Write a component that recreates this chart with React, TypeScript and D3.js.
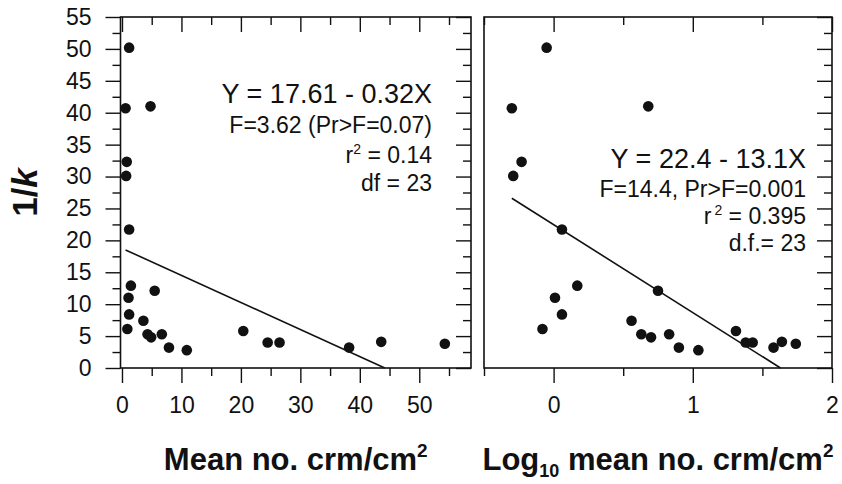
import React, { useRef, useEffect } from 'react';
import * as d3 from 'd3';

// 1/k for each site (same points in both panels)
const invK = [50.2, 40.7, 41.0, 32.3, 30.1, 21.7, 12.9, 11.0, 12.1, 8.4, 6.1, 7.4, 5.3, 4.8, 5.3, 3.2, 2.8, 5.8, 4.0, 4.0, 3.2, 4.1, 3.8];
// mean no. crm/cm2 (left panel)
const meanCrm = [1.2, 0.6, 4.8, 0.8, 0.7, 1.2, 1.5, 1.1, 5.5, 1.2, 0.9, 3.6, 4.3, 4.9, 6.7, 7.9, 10.9, 20.4, 24.5, 26.5, 38.2, 43.6, 54.3];
// log10 mean no. crm/cm2 (right panel)
const logMeanCrm = [-0.05, -0.3, 0.68, -0.23, -0.29, 0.06, 0.17, 0.01, 0.75, 0.06, -0.08, 0.56, 0.63, 0.7, 0.83, 0.9, 1.04, 1.31, 1.38, 1.43, 1.58, 1.64, 1.74];

// fitted lines as drawn (start / end)
const leftFit: [number, number][] = [[0.6, 18.5], [44.2, 0]];
const rightFit: [number, number][] = [[-0.3, 26.6], [1.63, 0]];

const yTicks = d3.range(0, 56, 5);
const yMinor = d3.range(2.5, 55, 5);
const leftXTicks = [0, 10, 20, 30, 40, 50];
const leftXMinor = [5, 15, 25, 35, 45, 55];
const rightXTicks = [0, 1, 2];
const rightXMinor = [-0.5, 0.5, 1.5];

const leftStats = { eq: 'Y = 17.61 - 0.32X', f: 'F=3.62 (Pr>F=0.07)', r2: ' = 0.14', df: 'df = 23' };
const rightStats = { eq: 'Y = 22.4 - 13.1X', f: 'F=14.4, Pr>F=0.001', r2: ' = 0.395', df: 'd.f.= 23' };

const FONT = "'Liberation Sans', Arial, Helvetica, sans-serif";
const INK = '#111';

const App = () => {
  const svgRef = useRef<SVGSVGElement>(null);

  useEffect(() => {
    const width = 842;
    const height = 484;
    const top = 17;
    const bottom = 368;

    const svg = d3.select(svgRef.current);
    svg.selectAll('*').remove();
    svg.attr('width', width).attr('height', height);

    const y = d3.scaleLinear().domain([0, 55]).range([bottom, top]);
    const xL = d3.scaleLinear().domain([-0.25, 58.7]).range([120.5, 471]);
    const xR = d3.scaleLinear().domain([-0.5, 2]).range([484, 832]);

    // helper for tick-only axes
    const ticks = (axis: any, tx: number, ty: number) => {
      const g = svg.append('g').attr('transform', `translate(${tx},${ty})`).call(axis);
      g.select('.domain').remove();
      g.selectAll('line').attr('stroke', INK).attr('stroke-width', 1.4);
      g.selectAll('text').attr('font-family', FONT).attr('font-size', 23).attr('fill', INK);
      return g;
    };

    const panel = (x: any, xs: number[], xMajor: number[], xMinor: number[], fit: [number, number][], leftLabels: boolean) => {
      const [x0, x1] = x.range();

      // left side
      if (leftLabels) {
        ticks(d3.axisLeft(y).tickValues(yTicks).tickSize(15).tickPadding(14), x0, 0);
        ticks(d3.axisLeft(y).tickValues(yMinor).tickSize(8).tickFormat(() => ''), x0, 0);
      }
      // right side, inward
      ticks(d3.axisRight(y).tickValues(yTicks).tickSize(-15).tickFormat(() => ''), x1, 0);
      ticks(d3.axisRight(y).tickValues(yMinor).tickSize(-8).tickFormat(() => ''), x1, 0);
      // top, inward
      ticks(d3.axisTop(x).tickValues(xMajor).tickSize(-15).tickFormat(() => ''), 0, top);
      ticks(d3.axisTop(x).tickValues(xMinor).tickSize(-8).tickFormat(() => ''), 0, top);
      // bottom, outward
      ticks(d3.axisBottom(x).tickValues(xMajor).tickSize(15).tickPadding(14).tickFormat(d3.format('d')), 0, bottom);
      ticks(d3.axisBottom(x).tickValues(xMinor).tickSize(8).tickFormat(() => ''), 0, bottom);

      // frame
      svg.append('rect')
        .attr('x', x0).attr('y', top)
        .attr('width', x1 - x0).attr('height', bottom - top)
        .attr('fill', 'none').attr('stroke', INK).attr('stroke-width', 1.6);

      // regression line
      svg.append('path')
        .datum(fit)
        .attr('d', d3.line<[number, number]>().x(d => x(d[0])).y(d => y(d[1])))
        .attr('fill', 'none').attr('stroke', INK).attr('stroke-width', 1.6);

      // points
      svg.append('g').selectAll('circle')
        .data(xs.map((v, i) => [v, invK[i]]))
        .join('circle')
        .attr('cx', d => x(d[0]))
        .attr('cy', d => y(d[1]))
        .attr('r', 5.3)
        .attr('fill', INK);
    };

    panel(xL, meanCrm, leftXTicks, leftXMinor, leftFit, true);
    panel(xR, logMeanCrm, rightXTicks, rightXMinor, rightFit, false);

    // stats text blocks
    const stats = (s: any, xEnd: number, baselines: number[], supGap: number) => {
      const g = svg.append('g')
        .attr('font-family', FONT).attr('fill', INK).attr('text-anchor', 'end');
      g.append('text').attr('x', xEnd).attr('y', baselines[0]).attr('font-size', 27).text(s.eq);
      g.append('text').attr('x', xEnd).attr('y', baselines[1]).attr('font-size', 23).text(s.f);
      const r = g.append('text').attr('x', xEnd).attr('y', baselines[2]).attr('font-size', 23);
      r.append('tspan').text('r');
      r.append('tspan').attr('font-size', 14).attr('dx', supGap).attr('dy', -9).text('2');
      r.append('tspan').attr('dy', 9).text(s.r2);
      g.append('text').attr('x', xEnd).attr('y', baselines[3]).attr('font-size', 23).text(s.df);
    };
    stats(leftStats, 432, [103, 133, 163, 191], 0);
    stats(rightStats, 806, [168, 197, 224, 251], 3);

    // y title
    const yt = svg.append('text')
      .attr('transform', `translate(37,${(top + bottom) / 2}) rotate(-90)`)
      .attr('text-anchor', 'middle')
      .attr('font-family', FONT).attr('font-weight', 'bold').attr('font-size', 35).attr('fill', INK);
    yt.append('tspan').text('1/');
    yt.append('tspan').attr('font-style', 'italic').text('k');

    // x titles
    const lt = svg.append('text')
      .attr('x', (xL.range()[0] + xL.range()[1]) / 2).attr('y', 470)
      .attr('text-anchor', 'middle')
      .attr('font-family', FONT).attr('font-weight', 'bold').attr('font-size', 31).attr('fill', INK);
    lt.append('tspan').text('Mean no. crm/cm');
    lt.append('tspan').attr('font-size', 19).attr('dy', -13).text('2');

    const rt = svg.append('text')
      .attr('x', (xR.range()[0] + xR.range()[1]) / 2).attr('y', 470)
      .attr('text-anchor', 'middle')
      .attr('font-family', FONT).attr('font-weight', 'bold').attr('font-size', 31).attr('fill', INK);
    rt.append('tspan').text('Log');
    rt.append('tspan').attr('font-size', 18).attr('dy', 7).text('10');
    rt.append('tspan').attr('dy', -7).text(' mean no. crm/cm');
    rt.append('tspan').attr('font-size', 19).attr('dy', -13).text('2');
  }, []);

  return (
    <svg
      ref={svgRef}
      style={{ position: 'absolute', left: 0, top: 0, display: 'block', background: '#fff' }}
    />
  );
};

export default App;
